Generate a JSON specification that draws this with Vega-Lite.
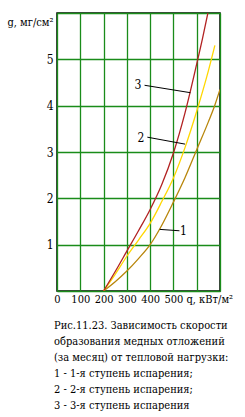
{
  "$schema": "https://vega.github.io/schema/vega-lite/v6.json",
  "width": 163,
  "height": 278,
  "autosize": "none",
  "padding": {"left": 57, "top": 13, "right": 25, "bottom": 126},
  "background": "white",
  "title": {
    "text": ["Рис.11.23. Зависимость скорости", "образования медных отложений", "(за месяц) от тепловой нагрузки:", "1 - 1-я ступень испарения;", "2 - 2-я ступень испарения;", "3 - 3-я ступень испарения"],
    "orient": "bottom",
    "anchor": "start",
    "frame": "group",
    "font": "DejaVu Serif Condensed, DejaVu Serif",
    "fontSize": 11,
    "fontWeight": "normal",
    "lineHeight": 16,
    "color": "black",
    "offset": 16,
    "dx": -3
  },
  "datasets": {
    "curves": [
      {"q": 200, "g": 0, "s": "1"}, {"q": 250, "g": 0.2, "s": "1"}, {"q": 300, "g": 0.43, "s": "1"}, {"q": 350, "g": 0.7, "s": "1"}, {"q": 400, "g": 1.0, "s": "1"}, {"q": 450, "g": 1.42, "s": "1"}, {"q": 500, "g": 1.92, "s": "1"}, {"q": 550, "g": 2.45, "s": "1"}, {"q": 600, "g": 3.05, "s": "1"}, {"q": 650, "g": 3.65, "s": "1"}, {"q": 677, "g": 4.0, "s": "1"}, {"q": 700, "g": 4.35, "s": "1"},
      {"q": 200, "g": 0, "s": "2"}, {"q": 250, "g": 0.36, "s": "2"}, {"q": 300, "g": 0.75, "s": "2"}, {"q": 350, "g": 1.1, "s": "2"}, {"q": 400, "g": 1.46, "s": "2"}, {"q": 450, "g": 1.93, "s": "2"}, {"q": 500, "g": 2.44, "s": "2"}, {"q": 550, "g": 3.1, "s": "2"}, {"q": 600, "g": 3.88, "s": "2"}, {"q": 650, "g": 4.75, "s": "2"}, {"q": 678, "g": 5.3, "s": "2"},
      {"q": 200, "g": 0, "s": "3"}, {"q": 250, "g": 0.42, "s": "3"}, {"q": 300, "g": 0.86, "s": "3"}, {"q": 350, "g": 1.3, "s": "3"}, {"q": 400, "g": 1.76, "s": "3"}, {"q": 450, "g": 2.3, "s": "3"}, {"q": 500, "g": 2.98, "s": "3"}, {"q": 550, "g": 3.85, "s": "3"}, {"q": 600, "g": 4.9, "s": "3"}, {"q": 625, "g": 5.45, "s": "3"}, {"q": 648, "g": 6.0, "s": "3"}
    ],
    "labels": [
      {"q": 543, "g": 1.3, "t": "1"},
      {"q": 361, "g": 3.3, "t": "2"},
      {"q": 348, "g": 4.44, "t": "3"}
    ],
    "leaders": [
      {"q": 526, "g": 1.3, "q2": 441, "g2": 1.33},
      {"q": 388, "g": 3.32, "q2": 550, "g2": 3.17},
      {"q": 376, "g": 4.44, "q2": 573, "g2": 4.28}
    ]
  },
  "encoding": {
    "x": {
      "field": "q", "type": "quantitative",
      "scale": {"domain": [0, 700], "nice": false},
      "axis": {
        "values": [0, 100, 200, 300, 400, 500, 600, 700],
        "labelExpr": "datum.value >= 600 ? '' : datum.label",
        "labelOverlap": false,
        "labelSeparation": -10,
        "labelFlush": false,
        "labelFontSize": 11,
        "title": "q, кВт/м²",
        "titleX": 129,
        "titleY": 8,
        "titleAlign": "left",
        "titleBaseline": "middle",
        "titleFontSize": 11,
        "labelPadding": 2,
        "labelBaseline": "top"
      }
    },
    "y": {
      "field": "g", "type": "quantitative",
      "scale": {"domain": [0, 6], "nice": false},
      "axis": {
        "values": [0, 1, 2, 3, 4, 5, 6],
        "labelExpr": "datum.value == 0 || datum.value == 6 ? '' : datum.label",
        "labelOverlap": false,
        "labelFlush": false,
        "title": "g, мг/см²",
        "titleAngle": 0,
        "titleX": -4,
        "titleY": 9,
        "titleAlign": "right",
        "titleBaseline": "middle",
        "titleFontSize": 11,
        "labelPadding": 4
      }
    }
  },
  "layer": [
    {
      "data": {"name": "curves"},
      "mark": {"type": "line", "interpolate": "monotone", "strokeWidth": 1.3, "clip": true},
      "encoding": {
        "color": {
          "field": "s", "type": "nominal",
          "scale": {"domain": ["1", "2", "3"], "range": ["#b8860b", "#ffd700", "#b22222"]},
          "legend": null
        }
      }
    },
    {
      "data": {"name": "leaders"},
      "mark": {"type": "rule", "color": "black", "strokeWidth": 1},
      "encoding": {
        "x2": {"field": "q2"},
        "y2": {"field": "g2"}
      }
    },
    {
      "data": {"name": "labels"},
      "mark": {"type": "text", "font": "DejaVu Serif Condensed, DejaVu Serif", "fontSize": 12, "color": "black", "align": "center", "baseline": "middle"},
      "encoding": {
        "text": {"field": "t"}
      }
    }
  ],
  "config": {
    "view": {"stroke": "black", "strokeWidth": 1.5},
    "axis": {
      "labelFont": "DejaVu Serif Condensed, DejaVu Serif",
      "labelFontSize": 12,
      "labelColor": "black",
      "labelOverlap": false,
      "titleFont": "DejaVu Serif Condensed, DejaVu Serif",
      "titleFontSize": 12,
      "titleFontWeight": "normal",
      "titleColor": "black",
      "gridColor": "#1a8c1a",
      "gridWidth": 1.3,
      "gridOpacity": 1,
      "ticks": false,
      "domain": false
    }
  }
}
